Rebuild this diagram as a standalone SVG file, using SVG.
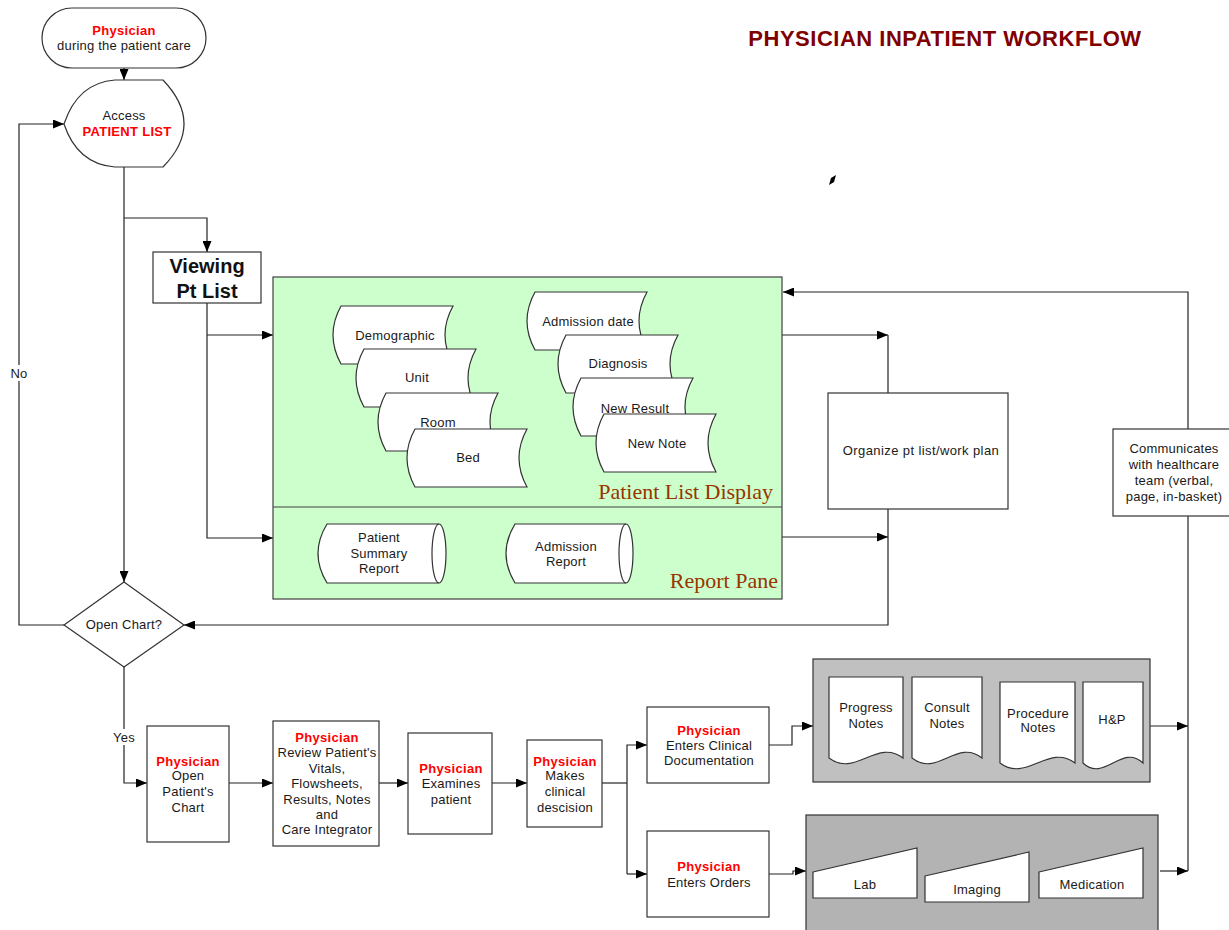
<svg xmlns="http://www.w3.org/2000/svg" width="1229" height="930" viewBox="0 0 1229 930">
  <style>
    text { font-family: "Liberation Sans", Arial, sans-serif; font-size: 13px; fill: #1a1a1a; text-anchor: middle; dominant-baseline: central; letter-spacing: 0.2px; }
    .who { font-weight: bold; fill: #ff0000; letter-spacing: 0.3px; }
    .title { font-weight: bold; font-size: 22px; fill: #800000; letter-spacing: 0.5px; }
    .big { font-weight: bold; font-size: 20px; fill: #111; letter-spacing: 0; }
    .pane { font-family: "Liberation Serif", "Times New Roman", serif; font-size: 22px; fill: #993300; text-anchor: end; dominant-baseline: auto; letter-spacing: 0; }
    .box { fill: #ffffff; stroke: #333; stroke-width: 1.2; }
    .store { fill: #ffffff; stroke: #333; stroke-width: 1.2; }
    .conn { fill: none; stroke: #222; stroke-width: 1.2; }
    .arr { marker-end: url(#ah); }
    .lbl { fill: #ffffff; stroke: none; }
  </style>
  <defs>
    <marker id="ah" markerWidth="11" markerHeight="9" refX="11" refY="4.5" orient="auto" markerUnits="userSpaceOnUse">
      <path d="M0,0 L11,4.5 L0,9 Z" fill="#000"/>
    </marker>
  </defs>

  <rect width="1229" height="930" fill="#ffffff"/>

  <text class="title" x="945" y="38">PHYSICIAN INPATIENT WORKFLOW</text>

  <!-- small stray mark -->
  <polygon points="829,185 831,178 836,175 834,182" fill="#000"/>

  <!-- connectors -->
  <g id="connectors">
    <path class="conn arr" d="M124,68 V80"/>
    <path class="conn arr" d="M124,167 V582"/>
    <path class="conn arr" d="M124,218 H207 V252"/>
    <path class="conn arr" d="M207,303 V538 H273"/>
    <path class="conn arr" d="M207,335 H273"/>
    <path class="conn arr" d="M782,335 H888"/>
    <path class="conn" d="M888,335 V393"/>
    <path class="conn arr" d="M782,537 H888"/>
    <path class="conn arr" d="M888,509 V625 H184"/>
    <path class="conn arr" d="M64,625 H19 V124 H64"/>
    <path class="conn arr" d="M124,667 V783 H147"/>
    <path class="conn arr" d="M229,783 H273"/>
    <path class="conn arr" d="M379,783 H408"/>
    <path class="conn arr" d="M492,783 H527"/>
    <path class="conn" d="M602,783 H627"/>
    <path class="conn arr" d="M627,874 V745 H647"/>
    <path class="conn arr" d="M627,874 H647"/>
    <path class="conn arr" d="M769,745 H792 V726 H813"/>
    <path class="conn arr" d="M769,874 H793 V871 H806"/>
    <path class="conn arr" d="M1143,726 H1188"/>
    <path class="conn arr" d="M1160,871 H1188"/>
    <path class="conn" d="M1188,516 V871"/>
    <path class="conn arr" d="M1188,429 V292 H783"/>
    <rect class="lbl" x="9" y="365" width="21" height="16"/>
    <text x="19" y="373">No</text>
    <rect class="lbl" x="111" y="729" width="27" height="16"/>
    <text x="124" y="737">Yes</text>
  </g>

  <!-- start -->
  <g id="start">
    <rect class="box" x="42" y="8" width="164" height="60" rx="30" ry="30"/>
    <text class="who" x="124" y="30">Physician</text>
    <text x="124" y="45">during the patient care</text>
  </g>

  <!-- access patient list (display shape) -->
  <g id="access-list">
    <path class="box" d="M64,124 C72,100 88,82 115,80 L163,80 Q205,124 163,167 L115,167 C88,165 72,148 64,124 Z"/>
    <text x="124" y="115">Access</text>
    <text class="who" x="127" y="131">PATIENT LIST</text>
  </g>

  <!-- viewing pt list -->
  <g id="viewing">
    <rect class="box" x="153" y="252" width="108" height="51"/>
    <text class="big" x="207" y="266">Viewing</text>
    <text class="big" x="207" y="291">Pt List</text>
  </g>

  <!-- patient list display / report pane container -->
  <g id="patient-list-display">
    <rect x="273" y="277" width="509" height="322" fill="#ccffcc" stroke="#404040" stroke-width="1.2"/>
    <line x1="273" y1="507" x2="782" y2="507" stroke="#404040" stroke-width="1.2"/>
    <text class="pane" x="773" y="499">Patient List Display</text>
    <text class="pane" x="778" y="588">Report Pane</text>
  </g>

  <g id="demographic">
    <path class="store" d="M341,306 H453 Q437,335 453,364 H341 Q325,335 341,306 Z"/>
    <text x="395" y="335">Demographic</text>
  </g>
  <g id="unit">
    <path class="store" d="M364,349 H476 Q460,378 476,407 H364 Q348,378 364,349 Z"/>
    <text x="417" y="377">Unit</text>
  </g>
  <g id="room">
    <path class="store" d="M386,393 H498 Q482,422 498,451 H386 Q370,422 386,393 Z"/>
    <text x="438" y="422">Room</text>
  </g>
  <g id="bed">
    <path class="store" d="M415,429 H527 Q511,458 527,487 H415 Q399,458 415,429 Z"/>
    <text x="468" y="457">Bed</text>
  </g>
  <g id="admission-date">
    <path class="store" d="M535,292 H647 Q631,321 647,350 H535 Q519,321 535,292 Z"/>
    <text x="588" y="321">Admission date</text>
  </g>
  <g id="diagnosis">
    <path class="store" d="M566,335 H678 Q662,364 678,393 H566 Q550,364 566,335 Z"/>
    <text x="618" y="363">Diagnosis</text>
  </g>
  <g id="new-result">
    <path class="store" d="M581,378 H693 Q677,407 693,436 H581 Q565,407 581,378 Z"/>
    <text x="635" y="408">New Result</text>
  </g>
  <g id="new-note">
    <path class="store" d="M604,414 H716 Q700,443 716,472 H604 Q588,443 604,414 Z"/>
    <text x="657" y="443">New Note</text>
  </g>

  <g id="patient-summary-report">
    <path class="store" d="M327,524 H439 A7,29.5 0 0 1 439,583 H327 Q309,553.5 327,524 Z"/>
    <path fill="none" stroke="#333" stroke-width="1.2" d="M439,524 A7,29.5 0 0 0 439,583"/>
    <text x="379" y="537">Patient</text>
    <text x="379" y="553">Summary</text>
    <text x="379" y="568">Report</text>
  </g>
  <g id="admission-report">
    <path class="store" d="M515,524 H626 A7,29.5 0 0 1 626,583 H515 Q497,553.5 515,524 Z"/>
    <path fill="none" stroke="#333" stroke-width="1.2" d="M626,524 A7,29.5 0 0 0 626,583"/>
    <text x="566" y="546">Admission</text>
    <text x="566" y="561">Report</text>
  </g>

  <g id="organize">
    <rect class="box" x="828" y="393" width="180" height="116"/>
    <text x="921" y="450" style="letter-spacing:0.4px">Organize pt list/work plan</text>
  </g>

  <g id="communicates">
    <rect class="box" x="1113" y="429" width="120" height="87"/>
    <text x="1174" y="448">Communicates</text>
    <text x="1174" y="464">with healthcare</text>
    <text x="1174" y="480">team (verbal,</text>
    <text x="1174" y="496">page, in-basket)</text>
  </g>

  <g id="open-chart-decision">
    <polygon class="box" points="124,582 184,625 124,667 64,625"/>
    <text x="124" y="624">Open Chart?</text>
  </g>

  <g id="open-chart">
    <rect class="box" x="147" y="726" width="82" height="116"/>
    <text class="who" x="188" y="761">Physician</text>
    <text x="188" y="775">Open</text>
    <text x="188" y="791">Patient's</text>
    <text x="188" y="807">Chart</text>
  </g>

  <g id="review">
    <rect class="box" x="273" y="721" width="106" height="125"/>
    <text class="who" x="327" y="737">Physician</text>
    <text x="327" y="752">Review Patient's</text>
    <text x="327" y="768">Vitals,</text>
    <text x="327" y="783">Flowsheets,</text>
    <text x="327" y="799">Results, Notes</text>
    <text x="327" y="814">and</text>
    <text x="327" y="829">Care Integrator</text>
  </g>

  <g id="examines">
    <rect class="box" x="408" y="733" width="84" height="101"/>
    <text class="who" x="451" y="768">Physician</text>
    <text x="451" y="783">Examines</text>
    <text x="451" y="799">patient</text>
  </g>

  <g id="decision">
    <rect class="box" x="527" y="740" width="75" height="87"/>
    <text class="who" x="565" y="761">Physician</text>
    <text x="565" y="775">Makes</text>
    <text x="565" y="791">clinical</text>
    <text x="565" y="807">descision</text>
  </g>

  <g id="clinical-documentation">
    <rect class="box" x="647" y="707" width="122" height="76"/>
    <text class="who" x="709" y="730">Physician</text>
    <text x="709" y="745">Enters Clinical</text>
    <text x="709" y="760">Documentation</text>
  </g>

  <g id="enters-orders">
    <rect class="box" x="647" y="831" width="122" height="86"/>
    <text class="who" x="709" y="866">Physician</text>
    <text x="709" y="882">Enters Orders</text>
  </g>

  <g id="notes-group">
    <rect x="813" y="659" width="337" height="123" fill="#c0c0c0" stroke="#333" stroke-width="1.2"/>
    <path class="box" d="M829,677 H903 V758 C877,738 855,778 829,758 Z"/>
    <text x="866" y="707">Progress</text>
    <text x="866" y="723">Notes</text>
    <path class="box" d="M912,677 H982 V758 C957,738 937,778 912,758 Z"/>
    <text x="947" y="707">Consult</text>
    <text x="947" y="723">Notes</text>
    <path class="box" d="M1000,682 H1075 V763 C1049,743 1026,783 1000,763 Z"/>
    <text x="1038" y="713">Procedure</text>
    <text x="1038" y="727">Notes</text>
    <path class="box" d="M1083,682 H1143 V763 C1122,743 1104,783 1083,763 Z"/>
    <text x="1112" y="719">H&amp;P</text>
  </g>

  <g id="orders-group">
    <rect x="806" y="815" width="352" height="125" fill="#b3b3b3" stroke="#333" stroke-width="1.2"/>
    <polygon class="box" points="813,872 917,848 917,898 813,898"/>
    <text x="865" y="884">Lab</text>
    <polygon class="box" points="925,876 1029,852 1029,902 925,902"/>
    <text x="977" y="889">Imaging</text>
    <polygon class="box" points="1039,872 1143,848 1143,898 1039,898"/>
    <text x="1092" y="884">Medication</text>
  </g>
</svg>
